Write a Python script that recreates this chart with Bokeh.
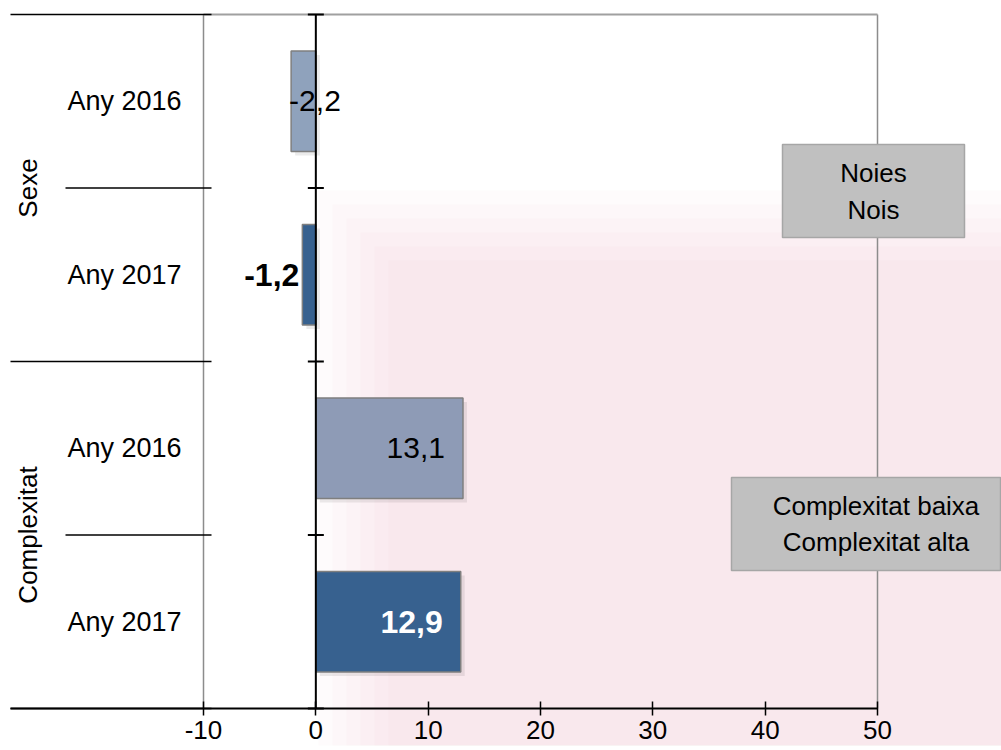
import math
from bokeh.plotting import figure
from bokeh.models import LinearAxis, FixedTicker, ColumnDataSource
from bokeh.core.properties import value
from bokeh.embed import file_html
from bokeh.resources import INLINE

# ---------------- data ----------------
groups = ["Sexe", "Sexe", "Complexitat", "Complexitat"]
years = ["Any 2016", "Any 2017", "Any 2016", "Any 2017"]
values = [-2.2, -1.2, 13.1, 12.9]
series_colors = ["#8FA2BC", "#37618F", "#8E9BB6", "#37618F"]
label_bold = [False, True, False, True]
label_colors = ["#000000", "#000000", "#000000", "#FFFFFF"]
x_ticks = [-10, 0, 10, 20, 30, 40, 50]
legend1 = ["Noies", "Nois"]
legend2 = ["Complexitat baixa", "Complexitat alta"]

# ---------------- layout (pixels) ----------------
W, H = 1001, 750
PAGE = 0
XM10, X50 = 203 - PAGE, 877 - PAGE      # screen px of x=-10 and x=50
YTOP, YBOT = 14 - PAGE, 708 - PAGE      # screen px of top / bottom of rows
n = len(values)
sx = (X50 - XM10) / 60.0
sy = (YBOT - YTOP) / n
x_start = -10 - XM10 / sx
x_end = 50 + (W - X50) / sx
y_end = n + YTOP / sy
y_start = -(H - YBOT) / sy


def px2x(px):
    return x_start + (px - PAGE) / sx


def py2y(py):
    return y_end - (py - PAGE) / sy


FONT = "Liberation Sans"

p = figure(width=W, height=H, x_range=(x_start, x_end), y_range=(y_start, y_end),
           output_backend="svg", toolbar_location=None,
           x_axis_type=None, y_axis_type=None,
           min_border=0, min_border_left=0, min_border_right=0,
           min_border_top=0, min_border_bottom=0)
p.outline_line_color = None
p.grid.visible = False
p.background_fill_color = "white"
p.border_fill_color = "white"

# faint pink watermark-like background (soft edged by layering)
for k in range(6):
    d = k * 14
    p.quad(left=[px2x(318 + d)], right=[px2x(1001)], top=[py2y(190 + d)], bottom=[py2y(745)],
           fill_color="#F2B8C0", fill_alpha=0.055, line_color=None)

# row positions (top to bottom)
centers = [n - i - 0.5 for i in range(n)]

# gray frame lines: verticals at -10 and 50, top line
p.segment(x0=[-10, 50], y0=[0, 0], x1=[-10, 50], y1=[n, n], line_color="#8C8C8C", line_width=1.5)
p.segment(x0=[-10], y0=[n], x1=[50], y1=[n], line_color="#A0A0A0", line_width=2)

# bar shadows
shadow_dx = 4 / sx
shadow_dy = 4 / sy
p.hbar(y=[c - shadow_dy for c in centers], left=[0 + shadow_dx] * n,
       right=[v + shadow_dx for v in values], height=0.58,
       fill_color="#000000", fill_alpha=0.08, line_color=None)

# bars
src = ColumnDataSource(dict(y=centers, left=[0] * n, right=values, color=series_colors))
p.hbar(y="y", left="left", right="right", height=0.58, fill_color="color",
       line_color="#7F7F7F", line_width=1.5, source=src)

# data labels
for i, v in enumerate(values):
    txt = f"{v:.1f}".replace(".", ",")
    if v < 0 and not label_bold[i]:
        align, off = "left", -2
    elif v < 0:
        align, off = "right", -3
    else:
        align, off = "right", -18
    p.text(x=[v], y=[centers[i]], text=[txt], x_offset=off,
           text_align=align, text_baseline="middle",
           text_font=value(FONT), text_font_size="32px" if label_bold[i] else "30px",
           text_font_style="bold" if label_bold[i] else "normal",
           text_color=label_colors[i])

# category table lines
group_bounds = [0]
for i in range(1, n):
    if groups[i] != groups[i - 1]:
        group_bounds.append(n - i)
group_bounds.append(n)
long_b = sorted(set(group_bounds))
short_b = [b for b in range(n + 1) if b not in long_b]
p.segment(x0=[px2x(10)] * len(long_b), y0=long_b, x1=[px2x(211)] * len(long_b), y1=long_b,
          line_color="#000000", line_width=1.5)
p.segment(x0=[px2x(65)] * len(short_b), y0=short_b, x1=[px2x(211)] * len(short_b), y1=short_b,
          line_color="#000000", line_width=1.5)

# row labels
p.text(x=[px2x(67)] * n, y=centers, text=years, text_align="left", text_baseline="middle",
       text_font=value(FONT), text_font_size="27px", text_color="#000000")

# group labels
gnames, gcent = [], []
for g in dict.fromkeys(groups):
    idx = [i for i, gg in enumerate(groups) if gg == g]
    gnames.append(g)
    gcent.append(sum(centers[i] for i in idx) / len(idx))
p.text(x=[px2x(27)] * len(gnames), y=gcent, text=gnames, angle=math.pi / 2,
       text_align="center", text_baseline="middle",
       text_font=value(FONT), text_font_size="26px", text_color="#000000")

# vertical category axis at x = 0 with crossing ticks at category boundaries
p.segment(x0=[0], y0=[0], x1=[0], y1=[n], line_color="#000000", line_width=2)
p.scatter(x=[0] * (n + 1), y=list(range(n + 1)), marker="dash", size=16,
          line_color="#000000", line_width=2)

# value axis
xaxis = LinearAxis(fixed_location=0, bounds=(px2x(10), 50), ticker=FixedTicker(ticks=x_ticks))
xaxis.major_label_overrides = {t: str(t) for t in x_ticks}
xaxis.axis_line_color = "#000000"
xaxis.axis_line_width = 2
xaxis.major_tick_line_color = "#000000"
xaxis.major_tick_line_width = 1.5
xaxis.major_tick_in = 7
xaxis.major_tick_out = 7
xaxis.minor_tick_line_color = None
xaxis.major_label_standoff = 5
xaxis.major_label_text_font = FONT
xaxis.major_label_text_font_size = "26px"
xaxis.major_label_text_color = "#000000"
p.add_layout(xaxis, "below")

# legend boxes
boxes = [((782, 964, 144, 237), legend1, (172.5, 209)),
         ((731, 1000, 477, 570), legend2, (505, 541))]
for (l, r, t, b), labels, ys in boxes:
    p.quad(left=[px2x(l)], right=[px2x(r)], top=[py2y(t)], bottom=[py2y(b)],
           fill_color="#C0C0C0", line_color="#A6A6A6", line_width=1.5)
    cx = px2x((l + r) / 2 if r < 990 else 875.5)
    p.text(x=[cx] * len(labels), y=[py2y(yy) for yy in ys], text=labels,
           text_align="center", text_baseline="middle",
           text_font=value(FONT), text_font_size="26px", text_color="#000000")

open("out.html", "w").write(file_html(p, INLINE))
